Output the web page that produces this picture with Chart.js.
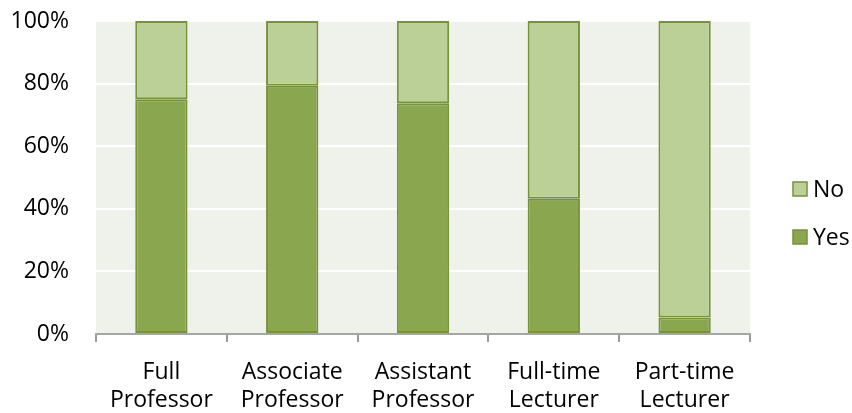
<!DOCTYPE html>
<html>
<head>
<meta charset="utf-8">
<script src="https://cdn.jsdelivr.net/npm/chart.js@4.4.1/dist/chart.umd.min.js"></script>
<style>
html,body{margin:0;padding:0;background:#fff;}
#wrap{width:852px;height:413px;position:relative;}
</style>
</head>
<body>
<div id="wrap"><canvas id="c" width="852" height="413"></canvas></div>
<script>
const categories = [["Full","Professor"],["Associate","Professor"],["Assistant","Professor"],["Full-time","Lecturer"],["Part-time","Lecturer"]];
const yesValues = [75, 79.3, 73.7, 43.2, 5.3];
const noValues = [25, 20.7, 26.3, 56.8, 94.7];
const yTicks = [0, 20, 40, 60, 80, 100];

const FONT = "'Open Sans', sans-serif";
const FS = 23;
const DARK = '#8AA64E', LIGHT = '#BBD097', EDGE = '#76933C';

const bgPlugin = {
  id: 'bg',
  beforeDraw(chart) {
    const {ctx, chartArea: a} = chart;
    ctx.save();
    ctx.fillStyle = '#EFF2EA';
    ctx.fillRect(a.left, a.top, a.right - a.left, a.bottom - a.top);
    ctx.restore();
  }
};
const legendPlugin = {
  id: 'customLegend',
  afterDraw(chart) {
    const ctx = chart.ctx;
    const items = [[chart.data.datasets[1], 189], [chart.data.datasets[0], 237]];
    ctx.save();
    ctx.font = FS + 'px ' + FONT;
    ctx.textBaseline = 'middle';
    items.forEach(([ds, y]) => {
      ctx.fillStyle = ds.backgroundColor;
      ctx.fillRect(793, y - 7, 14, 14);
      ctx.strokeStyle = ds.borderColor;
      ctx.lineWidth = 1.5;
      ctx.strokeRect(793, y - 7, 14, 14);
      ctx.fillStyle = '#000';
      ctx.fillText(ds.label, 813, y + 1);
    });
    ctx.restore();
  }
};

new Chart(document.getElementById('c'), {
  type: 'bar',
  data: {
    labels: categories,
    datasets: [
      {label: 'Yes', data: yesValues, backgroundColor: DARK, borderColor: EDGE, borderWidth: 2, borderSkipped: false},
      {label: 'No', data: noValues, backgroundColor: LIGHT, borderColor: EDGE, borderWidth: 2, borderSkipped: false}
    ]
  },
  options: {
    responsive: false,
    animation: false,
    layout: {padding: {left: 0, right: 102, top: 21, bottom: 0}},
    plugins: {legend: {display: false}, tooltip: {enabled: false}},
    datasets: {bar: {barPercentage: 0.4, categoryPercentage: 1}},
    scales: {
      x: {
        stacked: true,
        offset: true,
        afterFit(axis) { axis.paddingLeft = 0; axis.paddingRight = 0; axis.height = 79; },
        grid: {offset: true, drawOnChartArea: false, drawTicks: true, tickLength: 8, color: '#9A9A9A', lineWidth: 2},
        border: {display: true, color: '#A6A6A6', width: 2},
        ticks: {color: '#000', font: {family: FONT, size: FS, lineHeight: 1.22}, padding: 16, maxRotation: 0, autoSkip: false}
      },
      y: {
        stacked: true,
        min: 0, max: 100,
        afterBuildTicks(axis) { axis.ticks = yTicks.map(v => ({value: v})); },
        afterFit(axis) { axis.paddingTop = 0; axis.paddingBottom = 0; axis.width = 96; },
        grid: {color: '#FFFFFF', lineWidth: 2, drawTicks: false},
        border: {display: false},
        ticks: {color: '#000', font: {family: FONT, size: FS}, padding: 27, callback: v => v + '%'}
      }
    }
  },
  plugins: [bgPlugin, legendPlugin]
});
</script>
</body>
</html>
